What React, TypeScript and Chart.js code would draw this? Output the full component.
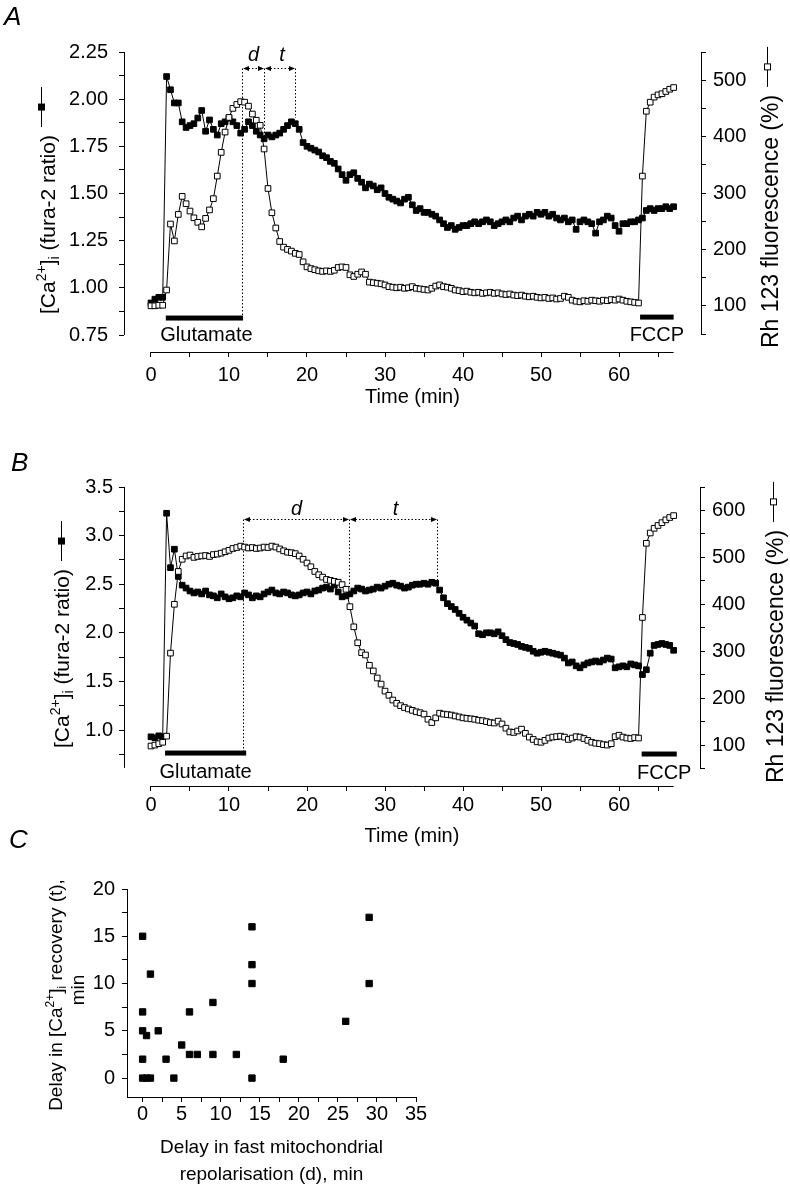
import { useEffect, useRef } from 'react';
import { Chart, registerables } from 'chart.js';

Chart.register(...registerables);

const FONT = '"Liberation Sans", Arial, Helvetica, sans-serif';
const PAGE_W = 790;
const PAGE_H = 1185;

// ---------------- data ----------------
// sampling times (min), shared by panels A and B
const timeMin = [
  0, 0.5, 1, 1.5, 2, 2.5, 3, 3.5, 4, 4.5,
  5, 5.5, 6, 6.5, 7, 7.5, 8, 8.5, 9, 9.5,
  10, 10.5, 11, 11.5, 12, 12.5, 13, 13.5, 14, 14.5,
  15, 15.5, 16, 16.5, 17, 17.5, 18, 18.5, 19, 19.5,
  20, 20.5, 21, 21.5, 22, 22.5, 23, 23.5, 24, 24.5,
  25, 25.5, 26, 26.5, 27, 27.5, 28, 28.5, 29, 29.5,
  30, 30.5, 31, 31.5, 32, 32.5, 33, 33.5, 34, 34.5,
  35, 35.5, 36, 36.5, 37, 37.5, 38, 38.5, 39, 39.5,
  40, 40.5, 41, 41.5, 42, 42.5, 43, 43.5, 44, 44.5,
  45, 45.5, 46, 46.5, 47, 47.5, 48, 48.5, 49, 49.5,
  50, 50.5, 51, 51.5, 52, 52.5, 53, 53.5, 54, 54.5,
  55, 55.5, 56, 56.5, 57, 57.5, 58, 58.5, 59, 59.5,
  60, 60.5, 61, 61.5, 62, 62.5, 63, 63.5, 64, 64.5,
  65, 65.5, 66, 66.5, 67,
];

// Panel A: [Ca2+]i (fura-2 ratio)
const caA = [
  0.92, 0.94, 0.95, 0.95, 2.12, 2.05, 1.98, 1.98, 1.88, 1.85,
  1.86, 1.87, 1.90, 1.94, 1.83, 1.89, 1.84, 1.81, 1.87, 1.88,
  1.90, 1.88, 1.86, 1.82, 1.84, 1.88, 1.86, 1.83, 1.81, 1.79,
  1.81, 1.80, 1.81, 1.82, 1.84, 1.86, 1.88, 1.87, 1.84, 1.77,
  1.75, 1.74, 1.73, 1.72, 1.70, 1.69, 1.67, 1.66, 1.63, 1.60,
  1.57, 1.60, 1.61, 1.58, 1.56, 1.53, 1.55, 1.54, 1.52, 1.53,
  1.50, 1.48, 1.47, 1.46, 1.45, 1.47, 1.48, 1.44, 1.41, 1.42,
  1.40, 1.40, 1.39, 1.38, 1.36, 1.34, 1.32, 1.33, 1.31, 1.32,
  1.33, 1.33, 1.34, 1.35, 1.34, 1.35, 1.36, 1.35, 1.33, 1.34,
  1.35, 1.36, 1.35, 1.37, 1.38, 1.36, 1.38, 1.39, 1.38, 1.40,
  1.39, 1.40, 1.38, 1.39, 1.37, 1.36, 1.37, 1.35, 1.36, 1.31,
  1.35, 1.36, 1.35, 1.34, 1.29, 1.35, 1.36, 1.38, 1.37, 1.33,
  1.30, 1.34, 1.34, 1.35, 1.35, 1.36, 1.37, 1.41, 1.42, 1.41,
  1.42, 1.42, 1.43, 1.42, 1.43,
];

// Panel A: Rh 123 fluorescence (%)
const rhA = [
  100, 100, 101, 101, 128, 245, 215, 262, 294, 281,
  268, 256, 248, 240, 255, 270, 290, 330, 372, 408,
  434, 450, 457, 462, 461, 454, 440, 429, 420, 378,
  308, 265, 238, 214, 204, 200, 197, 193, 191, 178,
  169, 166, 164, 162, 161, 162, 161, 163, 168, 169,
  168, 155, 152, 156, 160, 156, 142, 141, 140, 139,
  137, 134, 133, 132, 133, 131, 132, 134, 131, 130,
  129, 128, 131, 135, 137, 134, 133, 131, 128, 127,
  125, 126, 124, 123, 124, 122, 123, 124, 122, 123,
  121, 120, 121, 119, 118, 119, 117, 116, 117, 115,
  114, 115, 113, 114, 112, 113, 117, 115, 110, 108,
  107, 109, 108, 110, 109, 108, 110, 109, 111, 110,
  112, 110, 108, 107, 106, 105, 330, 445, 461, 470,
  474, 476, 480, 484, 487,
];

// Panel B: [Ca2+]i (fura-2 ratio)
const caB = [
  0.93, 0.92, 0.94, 0.93, 3.23, 2.67, 2.86, 2.58, 2.49, 2.46,
  2.43, 2.41, 2.42, 2.40, 2.43, 2.39, 2.38, 2.36, 2.40, 2.37,
  2.35, 2.36, 2.38, 2.37, 2.41, 2.39, 2.36, 2.38, 2.37, 2.40,
  2.42, 2.44, 2.41, 2.40, 2.42, 2.41, 2.39, 2.38, 2.39, 2.41,
  2.42, 2.40, 2.43, 2.44, 2.46, 2.47, 2.45, 2.49, 2.42, 2.37,
  2.38, 2.40, 2.43, 2.46, 2.45, 2.43, 2.44, 2.45, 2.47, 2.46,
  2.48, 2.50, 2.51, 2.49, 2.48, 2.46, 2.47, 2.49, 2.50, 2.50,
  2.51, 2.50, 2.52, 2.51, 2.44, 2.36, 2.30, 2.27, 2.24, 2.20,
  2.16, 2.13, 2.10, 2.07, 1.99, 1.98, 2.00, 2.00, 1.99, 2.01,
  1.97, 1.93, 1.90, 1.89, 1.88, 1.86, 1.85, 1.84, 1.81, 1.79,
  1.80, 1.81, 1.80, 1.79, 1.78, 1.77, 1.74, 1.69, 1.70, 1.66,
  1.64, 1.67, 1.69, 1.70, 1.71, 1.70, 1.72, 1.74, 1.73, 1.64,
  1.65, 1.66, 1.65, 1.68, 1.67, 1.66, 1.57, 1.62, 1.79, 1.87,
  1.88, 1.89, 1.88, 1.87, 1.82,
];

// Panel B: Rh 123 fluorescence (%)
const rhB = [
  98, 100, 103, 106, 119, 296, 400, 470, 496, 503,
  505, 500, 502, 503, 504, 502, 506, 507, 509, 512,
  515, 519, 521, 524, 522, 520, 521, 519, 520, 522,
  521, 524, 522, 518, 514, 511, 510, 508, 503, 496,
  488, 480, 470, 463, 458, 453, 451, 449, 447, 442,
  432, 395, 352, 318, 297, 292, 270, 258, 243, 230,
  215, 206, 196, 189, 184, 180, 177, 174, 171, 169,
  166, 155, 148, 158, 168, 166, 165, 164, 162, 160,
  158, 157, 156, 155, 153, 152, 150, 148, 147, 151,
  145, 136, 128, 127, 130, 134, 125, 117, 112, 107,
  106, 110, 115, 117, 118, 119, 117, 112, 115, 118,
  117, 114, 110, 106, 104, 103, 101, 100, 103, 118,
  121, 117, 115, 114, 116, 115, 372, 530, 552, 562,
  568, 574, 580, 585, 589,
];

// Panel C: delay in fast mitochondrial repolarisation (d) vs delay in [Ca2+]i recovery (t)
const delayD = [0, 1, 0, 0, 0.5, 2, 0, 0, 0.5, 1, 3, 4, 5, 6, 6, 7, 9, 9, 12, 14, 14, 14, 14, 18, 26, 29, 29];
const delayT = [15, 11, 7, 5, 4.5, 5, 2, 0, 0, 0, 2, 0, 3.5, 7, 2.5, 2.5, 8, 2.5, 2.5, 16, 12, 10, 0, 2, 6, 17, 10];

// tick values
const timeTicks = [0, 5, 10, 15, 20, 25, 30, 35, 40, 45, 50, 55, 60, 65];
const caTicksA = [0.75, 0.875, 1, 1.125, 1.25, 1.375, 1.5, 1.625, 1.75, 1.875, 2, 2.125, 2.25];
const rhTicksA = [50, 100, 150, 200, 250, 300, 350, 400, 450, 500, 550];
const caTicksB = [0.75, 1, 1.25, 1.5, 1.75, 2, 2.25, 2.5, 2.75, 3, 3.25, 3.5];
const rhTicksB = [50, 100, 150, 200, 250, 300, 350, 400, 450, 500, 550, 600, 650];
const dTicksC = [0, 2.5, 5, 7.5, 10, 12.5, 15, 17.5, 20, 22.5, 25, 27.5, 30, 32.5, 35];
const tTicksC = [0, 2.5, 5, 7.5, 10, 12.5, 15, 17.5, 20];

// ---------------- annotation settings ----------------
const annotA = {
  letter: 'A', letterAt: [4, 25],
  leftAxis: [0.75, 2.25], rightAxis: [50, 550], timeAxis: [0, 67],
  steps: [11.7, 14.6, 18.5], stepBottoms: [0.84, 1.78, 1.9], arrowLevel: 2.16, stepLabelDy: -13,
  bars: [
    { from: 1.9, to: 11.8, level: 0.84, text: 'Glutamate', dx: 2, dy: 17 },
    { from: 62.7, to: 67, level: 0.845, text: 'FCCP', dx: 0, dy: 18 },
  ],
  titleL: { cx: 47, y0: 314, mdx: -6, size: 21 },
  titleR: { cx: 770, y0: 348, mdx: -3, size: 23 },
};

const annotB = {
  letter: 'B', letterAt: [11, 471],
  leftAxis: [0.61, 3.5], rightAxis: [50, 650], timeAxis: [0, 67],
  steps: [11.9, 25.4, 36.7], stepBottoms: [0.763, 2.47, 2.54], arrowLevel: 3.17, stepLabelDy: -10,
  bars: [
    { from: 1.8, to: 12.2, level: 0.763, text: 'Glutamate', dx: 0, dy: 19 },
    { from: 62.9, to: 67.4, level: 0.753, text: 'FCCP', dx: 5, dy: 19 },
  ],
  titleL: { cx: 61, y0: 748, mdx: 0, size: 21 },
  titleR: { cx: 775, y0: 783, mdx: -2, size: 23 },
};

type Part = { t: string; s?: 'sup' | 'sub' };
const caTitle: Part[] = [{ t: '[Ca' }, { t: '2+', s: 'sup' }, { t: ']' }, { t: 'i', s: 'sub' }, { t: ' (fura-2 ratio)' }];
const rhTitle: Part[] = [{ t: 'Rh 123 fluorescence (%)' }];
const cTitle1: Part[] = [{ t: 'Delay in [Ca' }, { t: '2+', s: 'sup' }, { t: ']' }, { t: 'i', s: 'sub' }, { t: ' recovery (t),' }];
const cTitle2: Part[] = [{ t: 'min' }];

// ---------------- helpers ----------------
const al = (v: number) => Math.round(v - 0.5) + 0.5;

function drawVText(
  ctx: CanvasRenderingContext2D, parts: Part[], cx: number, y0: number, size: number,
  opts: { center?: boolean; marker?: 'filled' | 'open'; mdx?: number } = {},
) {
  ctx.save();
  ctx.fillStyle = '#000';
  ctx.textAlign = 'left';
  ctx.textBaseline = 'alphabetic';
  const small = Math.round(size * 0.65);
  let total = 0;
  for (const p of parts) {
    ctx.font = `${p.s ? small : size}px ${FONT}`;
    total += ctx.measureText(p.t).width;
  }
  const start = opts.center ? y0 + total / 2 : y0;
  ctx.translate(cx, start);
  ctx.rotate(-Math.PI / 2);
  const base = size * 0.36;
  let x = 0;
  for (const p of parts) {
    ctx.font = `${p.s ? small : size}px ${FONT}`;
    const dy = p.s === 'sup' ? -size * 0.42 : p.s === 'sub' ? size * 0.22 : 0;
    ctx.fillText(p.t, x, base + dy);
    x += ctx.measureText(p.t).width;
  }
  if (opts.marker) {
    const m = (opts.mdx ?? 0) + 0.5;
    const a = x + 8;
    const len = 40;
    const c = a + len / 2;
    ctx.strokeStyle = '#000';
    ctx.lineWidth = 1;
    ctx.beginPath();
    ctx.moveTo(a, m);
    ctx.lineTo(a + len, m);
    ctx.stroke();
    if (opts.marker === 'filled') {
      ctx.fillStyle = '#000';
      ctx.fillRect(c - 3.5, m - 3.5, 7, 7);
    } else {
      ctx.fillStyle = '#fff';
      ctx.fillRect(c - 3, m - 3, 6, 6);
      ctx.strokeRect(c - 3, m - 3, 6, 6);
    }
  }
  ctx.restore();
}

function arrowHead(ctx: CanvasRenderingContext2D, x: number, y: number, dir: number) {
  ctx.beginPath();
  ctx.moveTo(x, y);
  ctx.lineTo(x - dir * 6, y - 2.5);
  ctx.lineTo(x - dir * 6, y + 2.5);
  ctx.closePath();
  ctx.fill();
}

function axis(o: {
  position: 'left' | 'right' | 'bottom'; min: number; max: number; ticks: number[];
  label: (v: number) => string; size: number; pad: number; title?: any; border?: boolean;
}) {
  const horizontal = o.position === 'bottom';
  return {
    type: 'linear',
    position: o.position,
    min: o.min,
    max: o.max,
    afterFit: (s: any) => {
      if (horizontal) s.height = o.size;
      else s.width = o.size;
    },
    afterBuildTicks: (s: any) => {
      s.ticks = o.ticks.map((v) => ({ value: v }));
    },
    grid: {
      display: true, drawOnChartArea: false, drawTicks: true, tickLength: 5,
      color: '#000', tickColor: '#000', tickWidth: 1, lineWidth: 1,
    },
    border: { display: !!o.border, color: '#000', width: 1 },
    ticks: {
      autoSkip: false, maxRotation: 0, minRotation: 0, padding: o.pad, color: '#000',
      font: { family: FONT, size: 20 },
      callback: (v: any) => o.label(Number(v)),
    },
    title: o.title ?? { display: false },
  };
}

const isMult = (v: number, step: number) => Math.abs(v / step - Math.round(v / step)) < 1e-6;

function timePanelPlugin(p: any) {
  return {
    id: 'deco' + p.letter,
    beforeDatasetsDraw(chart: any) {
      const ctx: CanvasRenderingContext2D = chart.ctx;
      const xs = chart.scales.x;
      const yl = chart.scales.yL;
      const ay = al(yl.getPixelForValue(p.arrowLevel));
      const px = p.steps.map((t: number) => al(xs.getPixelForValue(t)));
      ctx.save();
      ctx.strokeStyle = '#000';
      ctx.fillStyle = '#000';
      ctx.lineWidth = 1;
      ctx.setLineDash([1.5, 2]);
      px.forEach((x: number, i: number) => {
        ctx.beginPath();
        ctx.moveTo(x, ay);
        ctx.lineTo(x, yl.getPixelForValue(p.stepBottoms[i]));
        ctx.stroke();
      });
      for (let i = 0; i < px.length - 1; i++) {
        ctx.beginPath();
        ctx.moveTo(px[i] + 6, ay);
        ctx.lineTo(px[i + 1] - 6, ay);
        ctx.stroke();
      }
      ctx.setLineDash([]);
      for (let i = 0; i < px.length - 1; i++) {
        arrowHead(ctx, px[i] + 0.5, ay, -1);
        arrowHead(ctx, px[i + 1] - 0.5, ay, 1);
      }
      ctx.font = `italic 20px ${FONT}`;
      ctx.textAlign = 'center';
      ctx.textBaseline = 'middle';
      ctx.fillText('d', (px[0] + px[1]) / 2, ay + p.stepLabelDy);
      ctx.fillText('t', (px[1] + px[2]) / 2 + 2, ay + p.stepLabelDy);
      ctx.restore();
    },
    afterDraw(chart: any) {
      const ctx: CanvasRenderingContext2D = chart.ctx;
      const xs = chart.scales.x;
      const yl = chart.scales.yL;
      const yr = chart.scales.yR;
      const ca = chart.chartArea;
      ctx.save();
      ctx.strokeStyle = '#000';
      ctx.fillStyle = '#000';
      ctx.lineWidth = 1;
      // detached axis lines
      const lx = al(ca.left);
      const rx = al(ca.right);
      const bx = al(ca.bottom);
      ctx.beginPath();
      ctx.moveTo(lx, yl.getPixelForValue(p.leftAxis[1]));
      ctx.lineTo(lx, yl.getPixelForValue(p.leftAxis[0]));
      ctx.moveTo(rx, yr.getPixelForValue(p.rightAxis[1]));
      ctx.lineTo(rx, yr.getPixelForValue(p.rightAxis[0]));
      ctx.moveTo(xs.getPixelForValue(p.timeAxis[0]), bx);
      ctx.lineTo(xs.getPixelForValue(p.timeAxis[1]), bx);
      ctx.stroke();
      // treatment bars
      ctx.font = `20px ${FONT}`;
      ctx.textAlign = 'center';
      ctx.textBaseline = 'middle';
      for (const b of p.bars) {
        const x0 = xs.getPixelForValue(b.from);
        const x1 = xs.getPixelForValue(b.to);
        const y = yl.getPixelForValue(b.level);
        ctx.fillRect(x0, y - 2.5, x1 - x0, 5);
        ctx.fillText(b.text, (x0 + x1) / 2 + b.dx, y + b.dy);
      }
      // panel letter
      ctx.font = `italic 26px ${FONT}`;
      ctx.textAlign = 'left';
      ctx.textBaseline = 'alphabetic';
      ctx.fillText(p.letter, p.letterAt[0], p.letterAt[1]);
      ctx.restore();
      drawVText(ctx, caTitle, p.titleL.cx, p.titleL.y0, p.titleL.size, { marker: 'filled', mdx: p.titleL.mdx });
      drawVText(ctx, rhTitle, p.titleR.cx, p.titleR.y0, p.titleR.size, { marker: 'open', mdx: p.titleR.mdx });
    },
  };
}

function timePanelConfig(o: any): any {
  return {
    type: 'line',
    data: {
      datasets: [
        {
          label: 'Rh 123 fluorescence (%)',
          data: timeMin.map((t, i) => ({ x: t, y: o.rh[i] })),
          yAxisID: 'yR',
          borderColor: '#000',
          borderWidth: 1,
          pointStyle: 'rect',
          pointRadius: 4,
          pointBackgroundColor: '#fff',
          pointBorderColor: '#000',
          pointBorderWidth: 1,
          tension: 0,
          fill: false,
        },
        {
          label: '[Ca2+]i (fura-2 ratio)',
          data: timeMin.map((t, i) => ({ x: t, y: o.ca[i] })),
          yAxisID: 'yL',
          borderColor: '#000',
          borderWidth: 1,
          pointStyle: 'rect',
          pointRadius: 4,
          pointBackgroundColor: '#000',
          pointBorderColor: '#000',
          pointBorderWidth: 1,
          tension: 0,
          fill: false,
        },
      ],
    },
    options: {
      responsive: false,
      maintainAspectRatio: false,
      animation: false,
      devicePixelRatio: 1,
      events: [],
      layout: { padding: o.padding },
      plugins: { legend: { display: false }, tooltip: { enabled: false } },
      scales: {
        x: axis({
          position: 'bottom', min: o.xRange[0], max: o.xRange[1], ticks: timeTicks,
          label: (v) => (isMult(v, 10) ? String(v) : ''), size: o.xSize, pad: o.xPad,
          title: { display: true, text: 'Time (min)', color: '#000', font: { family: FONT, size: 20 }, padding: 0 },
        }),
        yL: axis({
          position: 'left', min: o.lRange[0], max: o.lRange[1], ticks: o.lTicks,
          label: o.lLabel, size: 70, pad: o.lPad,
        }),
        yR: axis({
          position: 'right', min: o.rRange[0], max: o.rRange[1], ticks: o.rTicks,
          label: (v) => (isMult(v, 100) && v >= o.rLabelRange[0] && v <= o.rLabelRange[1] ? String(v) : ''),
          size: 60, pad: o.rPad,
        }),
      },
    },
    plugins: [timePanelPlugin(o.annot)],
  };
}

const scatterPlugin = {
  id: 'decoC',
  afterDraw(chart: any) {
    const ctx: CanvasRenderingContext2D = chart.ctx;
    ctx.save();
    ctx.fillStyle = '#000';
    ctx.font = `italic 26px ${FONT}`;
    ctx.textAlign = 'left';
    ctx.textBaseline = 'alphabetic';
    ctx.fillText('C', 9, 848);
    ctx.restore();
    drawVText(ctx, cTitle1, 55, 995, 19, { center: true });
    drawVText(ctx, cTitle2, 77, 990, 19, { center: true });
  },
};

function scatterConfig(): any {
  return {
    type: 'scatter',
    data: {
      datasets: [
        {
          label: 'cells',
          data: delayD.map((d, i) => ({ x: d, y: delayT[i] })),
          pointStyle: 'rect',
          pointRadius: 4.5,
          pointBackgroundColor: '#000',
          pointBorderColor: '#000',
          pointBorderWidth: 1,
          showLine: false,
        },
      ],
    },
    options: {
      responsive: false,
      maintainAspectRatio: false,
      animation: false,
      devicePixelRatio: 1,
      events: [],
      layout: { padding: { left: 67, right: 374, top: 889, bottom: 0 } },
      plugins: { legend: { display: false }, tooltip: { enabled: false } },
      scales: {
        x: axis({
          position: 'bottom', min: -2, max: 35, ticks: dTicksC,
          label: (v) => (isMult(v, 5) ? String(v) : ''), size: 88, pad: 0, border: true,
          title: {
            display: true,
            text: ['Delay in fast mitochondrial', 'repolarisation (d), min'],
            color: '#000',
            font: { family: FONT, size: 19, lineHeight: 1.42 },
            padding: { top: 0, bottom: -3 },
          },
        }),
        y: axis({
          position: 'left', min: -2, max: 20, ticks: tTicksC,
          label: (v) => (isMult(v, 5) ? String(v) : ''), size: 60, pad: 7, border: true,
        }),
      },
    },
    plugins: [scatterPlugin],
  };
}

const configs = [
  () =>
    timePanelConfig({
      ca: caA, rh: rhA, annot: annotA,
      padding: { left: 54, right: 29, top: 52, bottom: PAGE_H - 409 },
      xRange: [-3.46, 70.51], xSize: 57, xPad: 6,
      lRange: [0.66, 2.25], lTicks: caTicksA, lLabel: (v: number) => (isMult(v, 0.25) ? v.toFixed(2) : ''), lPad: 11,
      rRange: [18.1, 550], rTicks: rhTicksA, rLabelRange: [100, 500], rPad: 7,
    }),
  () =>
    timePanelConfig({
      ca: caB, rh: rhB, annot: annotB,
      padding: { left: 54, right: 30, top: 487, bottom: PAGE_H - 848 },
      xRange: [-3.46, 70.38], xSize: 62, xPad: 2,
      lRange: [0.424, 3.5], lTicks: caTicksB, lLabel: (v: number) => (isMult(v, 0.5) ? v.toFixed(1) : ''), lPad: 6,
      rRange: [12.8, 650], rTicks: rhTicksB, rLabelRange: [100, 600], rPad: 7,
    }),
  () => scatterConfig(),
];

export default function App() {
  const refs = [useRef<HTMLCanvasElement>(null), useRef<HTMLCanvasElement>(null), useRef<HTMLCanvasElement>(null)];
  useEffect(() => {
    Chart.defaults.font.family = FONT;
    Chart.defaults.color = '#000';
    const charts = refs.map((r, i) => new Chart(r.current as HTMLCanvasElement, configs[i]()));
    return () => charts.forEach((c) => c.destroy());
  }, []);
  return (
    <div style={{ position: 'absolute', left: 0, top: 0, width: PAGE_W, height: PAGE_H, background: '#fff', overflow: 'hidden' }}>
      {refs.map((r, i) => (
        <canvas
          key={i}
          ref={r}
          width={PAGE_W}
          height={PAGE_H}
          style={{ position: 'absolute', left: 0, top: 0, width: PAGE_W, height: PAGE_H }}
        />
      ))}
    </div>
  );
}
